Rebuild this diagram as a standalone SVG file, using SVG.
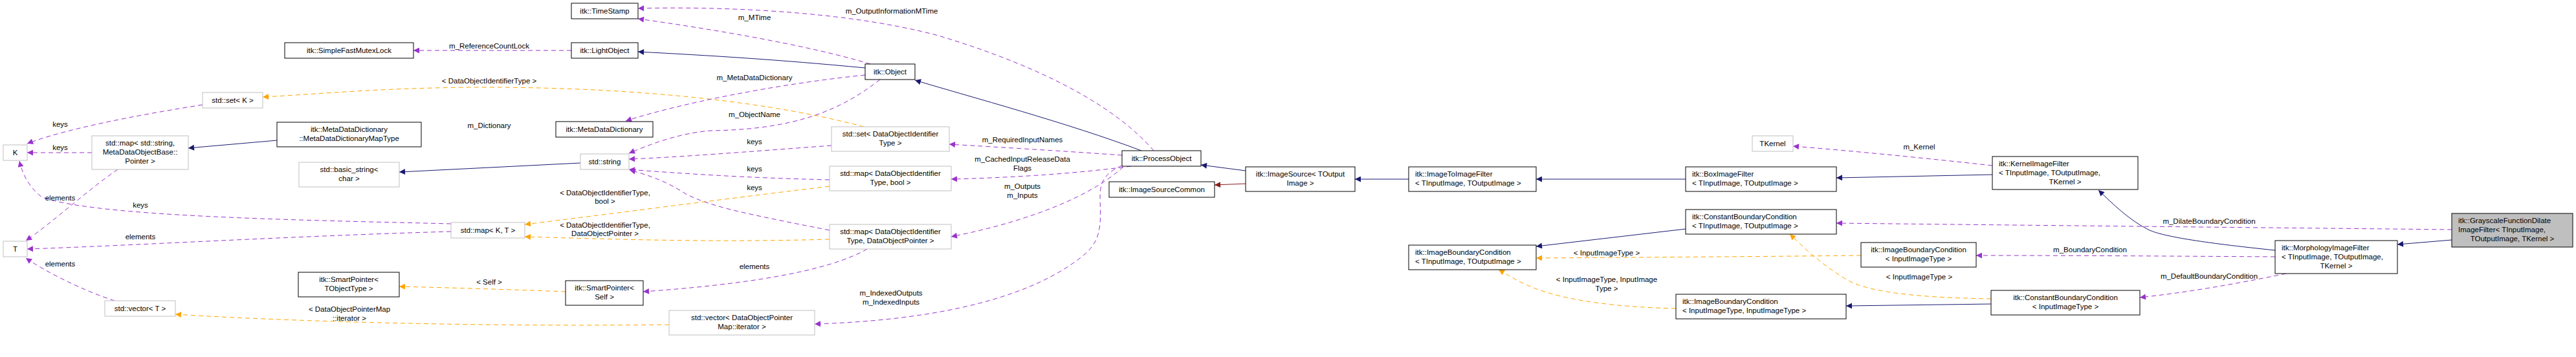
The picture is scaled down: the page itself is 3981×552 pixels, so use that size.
<svg xmlns="http://www.w3.org/2000/svg" width="3981" height="552" viewBox="0 0 3981 552">
<style>
text{font-family:"Liberation Sans",Arial,sans-serif;font-size:11.5px;fill:#000}
.n rect{fill:#fff;stroke:#000;stroke-width:1}
.g rect{fill:#fff;stroke:#bfbfbf;stroke-width:1}
.c{text-anchor:middle}
.e path{fill:none;stroke-width:1}
.p{stroke:#9a32cd;stroke-dasharray:7,5}
.o{stroke:#ffa500;stroke-dasharray:7,5}
.b{stroke:#191970}
.r{stroke:#8b1a1a}
</style>
<defs>
<marker id="mp" viewBox="0 0 10 10" refX="10" refY="5" markerWidth="11" markerHeight="9" orient="auto" markerUnits="userSpaceOnUse"><path d="M0,0L10,5L0,10z" fill="#9a32cd"/></marker>
<marker id="mo" viewBox="0 0 10 10" refX="10" refY="5" markerWidth="11" markerHeight="9" orient="auto" markerUnits="userSpaceOnUse"><path d="M0,0L10,5L0,10z" fill="#ffa500"/></marker>
<marker id="mb" viewBox="0 0 10 10" refX="10" refY="5" markerWidth="11" markerHeight="9" orient="auto" markerUnits="userSpaceOnUse"><path d="M0,0L10,5L0,10z" fill="#191970"/></marker>
<marker id="mr" viewBox="0 0 10 10" refX="10" refY="5" markerWidth="11" markerHeight="9" orient="auto" markerUnits="userSpaceOnUse"><path d="M0,0L10,5L0,10z" fill="#8b1a1a"/></marker>
</defs>
<rect width="3981" height="552" fill="#fff"/>
<g class="e" id="edges">
<path class="p" marker-end="url(#mp)" d="M313,162 C200,180 100,200 42,222"/>
<path class="p" marker-end="url(#mp)" d="M142,236 L42,236"/>
<path class="p" marker-end="url(#mp)" d="M697,346 C450,340 150,335 65,305 C45,290 35,270 30,249"/>
<path class="p" marker-end="url(#mp)" d="M182,262 C140,290 80,345 40,372"/>
<path class="p" marker-end="url(#mp)" d="M697,358 C450,365 200,380 42,385"/>
<path class="p" marker-end="url(#mp)" d="M177,465 C130,450 70,420 40,399"/>
<path class="o" marker-end="url(#mo)" d="M1335,196 C1200,160 1000,135 750,135 C600,135 500,145 406,150"/>
<path class="b" marker-end="url(#mb)" d="M428,217 L291,229"/>
<path class="b" marker-end="url(#mb)" d="M897,252 L617,266"/>
<path class="p" marker-end="url(#mp)" d="M883,78 L639,78"/>
<path class="b" marker-end="url(#mb)" d="M1337,105 C1200,92 1100,86 986,80"/>
<path class="p" marker-end="url(#mp)" d="M1345,99 C1250,70 1100,45 986,29"/>
<path class="p" marker-end="url(#mp)" d="M1783,233 C1720,160 1600,100 1450,55 C1300,15 1100,10 986,13"/>
<path class="p" marker-end="url(#mp)" d="M1337,116 C1200,130 1050,160 967,187"/>
<path class="p" marker-end="url(#mp)" d="M1360,123 C1300,170 1230,200 1100,202 C1050,205 1000,225 972,237"/>
<path class="p" marker-end="url(#mp)" d="M1285,225 C1150,235 1050,243 972,246"/>
<path class="p" marker-end="url(#mp)" d="M1282,278 C1150,275 1050,268 972,262"/>
<path class="p" marker-end="url(#mp)" d="M1282,356 C1150,330 1100,320 1060,300 C1030,280 1000,270 973,263"/>
<path class="o" marker-end="url(#mo)" d="M1282,288 C1100,310 950,330 811,347"/>
<path class="o" marker-end="url(#mo)" d="M1282,370 C1100,375 950,370 811,366"/>
<path class="p" marker-end="url(#mp)" d="M1340,385 C1280,420 1150,440 994,451"/>
<path class="o" marker-end="url(#mo)" d="M874,451 C800,448 700,445 617,443"/>
<path class="o" marker-end="url(#mo)" d="M1034,502 C800,505 500,500 271,486"/>
<path class="b" marker-end="url(#mb)" d="M1764,233 C1650,190 1500,150 1414,124"/>
<path class="p" marker-end="url(#mp)" d="M1734,240 C1650,234 1550,228 1467,223"/>
<path class="p" marker-end="url(#mp)" d="M1748,257 C1650,270 1550,275 1470,277"/>
<path class="p" marker-end="url(#mp)" d="M1736,258 C1690,300 1600,340 1470,366"/>
<path class="p" marker-end="url(#mp)" d="M1734,256 C1700,270 1700,290 1700,310 C1702,350 1700,370 1680,390 C1600,460 1450,495 1259,501"/>
<path class="b" marker-end="url(#mb)" d="M1925,264 L1856,255"/>
<path class="r" marker-end="url(#mr)" d="M1925,284 L1877,286"/>
<path class="b" marker-end="url(#mb)" d="M2177,277 L2094,277"/>
<path class="b" marker-end="url(#mb)" d="M2605,277 L2374,277"/>
<path class="b" marker-end="url(#mb)" d="M3079,270 L2838,275"/>
<path class="p" marker-end="url(#mp)" d="M3079,256 C2980,245 2870,234 2771,226"/>
<path class="b" marker-end="url(#mb)" d="M3516,387 C3400,375 3340,365 3320,355 C3290,340 3265,315 3243,294"/>
<path class="b" marker-end="url(#mb)" d="M3789,371 L3705,378"/>
<path class="p" marker-end="url(#mp)" d="M3789,355 C3500,352 3100,348 2838,345"/>
<path class="p" marker-end="url(#mp)" d="M3516,397 C3350,396 3200,395 3054,395"/>
<path class="p" marker-end="url(#mp)" d="M3533,423 C3450,440 3380,452 3307,460"/>
<path class="b" marker-end="url(#mb)" d="M2605,354 L2374,381"/>
<path class="o" marker-end="url(#mo)" d="M2876,395 C2700,397 2500,398 2374,399"/>
<path class="o" marker-end="url(#mo)" d="M2590,477 C2500,475 2420,465 2370,445 C2345,435 2330,425 2316,417"/>
<path class="o" marker-end="url(#mo)" d="M3077,462 C2950,460 2880,450 2850,430 C2810,405 2790,385 2766,362"/>
<path class="b" marker-end="url(#mb)" d="M3077,470 L2853,473"/>
</g>
<g id="labels">
<text class="c" x="93" y="196">keys</text>
<text class="c" x="93" y="232">keys</text>
<text class="c" x="217" y="321">keys</text>
<text class="c" x="93" y="310">elements</text>
<text class="c" x="217" y="370">elements</text>
<text class="c" x="93" y="412">elements</text>
<text class="c" x="756" y="129">&lt; DataObjectIdentifierType &gt;</text>
<text class="c" x="756" y="75">m_ReferenceCountLock</text>
<text class="c" x="1166" y="31">m_MTime</text>
<text class="c" x="1378" y="21">m_OutputInformationMTime</text>
<text class="c" x="1166" y="124">m_MetaDataDictionary</text>
<text class="c" x="756" y="198">m_Dictionary</text>
<text class="c" x="1166" y="181">m_ObjectName</text>
<text class="c" x="1166" y="223">keys</text>
<text class="c" x="1166" y="265">keys</text>
<text class="c" x="1166" y="294">keys</text>
<text class="c" x="935" y="302">&lt; DataObjectIdentifierType,</text>
<text class="c" x="935" y="315">bool &gt;</text>
<text class="c" x="935" y="352">&lt; DataObjectIdentifierType,</text>
<text class="c" x="935" y="365">DataObjectPointer &gt;</text>
<text class="c" x="1166" y="416">elements</text>
<text class="c" x="756" y="440">&lt; Self &gt;</text>
<text class="c" x="540" y="482">&lt; DataObjectPointerMap</text>
<text class="c" x="540" y="496">::iterator &gt;</text>
<text class="c" x="1580" y="220">m_RequiredInputNames</text>
<text class="c" x="1580" y="250">m_CachedInputReleaseData</text>
<text class="c" x="1580" y="264">Flags</text>
<text class="c" x="1580" y="292">m_Outputs</text>
<text class="c" x="1580" y="306">m_Inputs</text>
<text class="c" x="1377" y="457">m_IndexedOutputs</text>
<text class="c" x="1377" y="471">m_IndexedInputs</text>
<text class="c" x="2966" y="231">m_Kernel</text>
<text class="c" x="3414" y="346">m_DilateBoundaryCondition</text>
<text class="c" x="3230" y="390">m_BoundaryCondition</text>
<text class="c" x="3414" y="431">m_DefaultBoundaryCondition</text>
<text class="c" x="2483" y="395">&lt; InputImageType &gt;</text>
<text class="c" x="2483" y="436">&lt; InputImageType, InputImage</text>
<text class="c" x="2483" y="450">Type &gt;</text>
<text class="c" x="2966" y="432">&lt; InputImageType &gt;</text>
</g>
<g id="K" class="g"><rect x="5" y="224" width="37" height="24"/><text class="c" x="23.5" y="240">K</text></g>
<g id="T" class="g"><rect x="5" y="373" width="37" height="24"/><text class="c" x="23.5" y="389">T</text></g>
<g id="setK" class="g"><rect x="313" y="143" width="93" height="24"/><text class="c" x="359.5" y="159">std::set&lt; K &gt;</text></g>
<g id="mapStr" class="g"><rect x="142" y="210" width="149" height="52"/><text class="c" x="216.5" y="225">std::map&lt; std::string,</text><text class="c" x="216.5" y="239">MetaDataObjectBase::</text><text class="c" x="216.5" y="253">Pointer &gt;</text></g>
<g id="mutex" class="n"><rect x="440" y="66" width="199" height="24"/><text class="c" x="539.5" y="82">itk::SimpleFastMutexLock</text></g>
<g id="mapType" class="n"><rect x="428" y="189" width="223" height="38"/><text class="c" x="539.5" y="204">itk::MetaDataDictionary</text><text class="c" x="539.5" y="218">::MetaDataDictionaryMapType</text></g>
<g id="basicString" class="g"><rect x="462" y="251" width="155" height="38"/><text class="c" x="539.5" y="266">std::basic_string&lt;</text><text class="c" x="539.5" y="280">char &gt;</text></g>
<g id="spObj" class="n"><rect x="461" y="421" width="156" height="38"/><text class="c" x="539" y="436">itk::SmartPointer&lt;</text><text class="c" x="539" y="450">TObjectType &gt;</text></g>
<g id="vecT" class="g"><rect x="162" y="465" width="109" height="24"/><text class="c" x="216.5" y="481">std::vector&lt; T &gt;</text></g>
<g id="timeStamp" class="n"><rect x="883" y="5" width="103" height="24"/><text class="c" x="934.5" y="21">itk::TimeStamp</text></g>
<g id="lightObject" class="n"><rect x="883" y="66" width="103" height="24"/><text class="c" x="934.5" y="82">itk::LightObject</text></g>
<g id="mdd" class="n"><rect x="859" y="188" width="150" height="24"/><text class="c" x="934" y="204">itk::MetaDataDictionary</text></g>
<g id="string" class="g"><rect x="897" y="238" width="75" height="24"/><text class="c" x="934.5" y="254">std::string</text></g>
<g id="mapKT" class="g"><rect x="697" y="344" width="114" height="24"/><text class="c" x="754" y="360">std::map&lt; K, T &gt;</text></g>
<g id="spSelf" class="n"><rect x="874" y="434" width="120" height="38"/><text class="c" x="934" y="449">itk::SmartPointer&lt;</text><text class="c" x="934" y="463">Self &gt;</text></g>
<g id="vecIt" class="g"><rect x="1034" y="480" width="225" height="38"/><text class="c" x="1146.5" y="495">std::vector&lt; DataObjectPointer</text><text class="c" x="1146.5" y="509">Map::iterator &gt;</text></g>
<g id="object" class="n"><rect x="1337" y="99" width="77" height="24"/><text class="c" x="1375.5" y="115">itk::Object</text></g>
<g id="setId" class="g"><rect x="1285" y="196" width="182" height="38"/><text class="c" x="1376" y="211">std::set&lt; DataObjectIdentifier</text><text class="c" x="1376" y="225">Type &gt;</text></g>
<g id="mapBool" class="g"><rect x="1282" y="257" width="188" height="38"/><text class="c" x="1376" y="272">std::map&lt; DataObjectIdentifier</text><text class="c" x="1376" y="286">Type, bool &gt;</text></g>
<g id="mapPtr" class="g"><rect x="1282" y="347" width="188" height="38"/><text class="c" x="1376" y="362">std::map&lt; DataObjectIdentifier</text><text class="c" x="1376" y="376">Type, DataObjectPointer &gt;</text></g>
<g id="processObject" class="n"><rect x="1734" y="233" width="122" height="24"/><text class="c" x="1795" y="249">itk::ProcessObject</text></g>
<g id="isc" class="n"><rect x="1714" y="281" width="163" height="24"/><text class="c" x="1795.5" y="297">itk::ImageSourceCommon</text></g>
<g id="imageSource" class="n"><rect x="1925" y="258" width="169" height="38"/><text class="c" x="2009.5" y="273">itk::ImageSource&lt; TOutput</text><text class="c" x="2009.5" y="287">Image &gt;</text></g>
<g id="i2i" class="n"><rect x="2177" y="258" width="197" height="38"/><text x="2187" y="273">itk::ImageToImageFilter</text><text x="2187" y="287">&lt; TInputImage, TOutputImage &gt;</text></g>
<g id="box" class="n"><rect x="2605" y="258" width="233" height="38"/><text x="2615" y="273">itk::BoxImageFilter</text><text x="2615" y="287">&lt; TInputImage, TOutputImage &gt;</text></g>
<g id="cbcT" class="n"><rect x="2605" y="324" width="233" height="38"/><text x="2615" y="339">itk::ConstantBoundaryCondition</text><text x="2615" y="353">&lt; TInputImage, TOutputImage &gt;</text></g>
<g id="ibcT" class="n"><rect x="2177" y="379" width="197" height="38"/><text x="2187" y="394">itk::ImageBoundaryCondition</text><text x="2187" y="408">&lt; TInputImage, TOutputImage &gt;</text></g>
<g id="ibcII" class="n"><rect x="2590" y="455" width="263" height="38"/><text x="2600" y="470">itk::ImageBoundaryCondition</text><text x="2600" y="484">&lt; InputImageType, InputImageType &gt;</text></g>
<g id="tkernel" class="g"><rect x="2708" y="210" width="63" height="24"/><text class="c" x="2739.5" y="226">TKernel</text></g>
<g id="kernel" class="n"><rect x="3079" y="242" width="225" height="51"/><text x="3089" y="257">itk::KernelImageFilter</text><text x="3089" y="271">&lt; TInputImage, TOutputImage,</text><text class="c" x="3191.5" y="285">TKernel &gt;</text></g>
<g id="ibcI" class="n"><rect x="2876" y="375" width="178" height="38"/><text class="c" x="2965" y="390">itk::ImageBoundaryCondition</text><text class="c" x="2965" y="404">&lt; InputImageType &gt;</text></g>
<g id="cbcI" class="n"><rect x="3077" y="449" width="230" height="38"/><text class="c" x="3192" y="464">itk::ConstantBoundaryCondition</text><text class="c" x="3192" y="478">&lt; InputImageType &gt;</text></g>
<g id="morph" class="n"><rect x="3516" y="372" width="189" height="51"/><text x="3526" y="387">itk::MorphologyImageFilter</text><text x="3526" y="401">&lt; TInputImage, TOutputImage,</text><text class="c" x="3610.5" y="415">TKernel &gt;</text></g>
<g id="gray"><rect x="3789" y="330" width="187" height="52" fill="#bfbfbf" stroke="#000"/><text x="3799" y="345">itk::GrayscaleFunctionDilate</text><text x="3799" y="359">ImageFilter&lt; TInputImage,</text><text class="c" x="3882.5" y="373">TOutputImage, TKernel &gt;</text></g>
</svg>
